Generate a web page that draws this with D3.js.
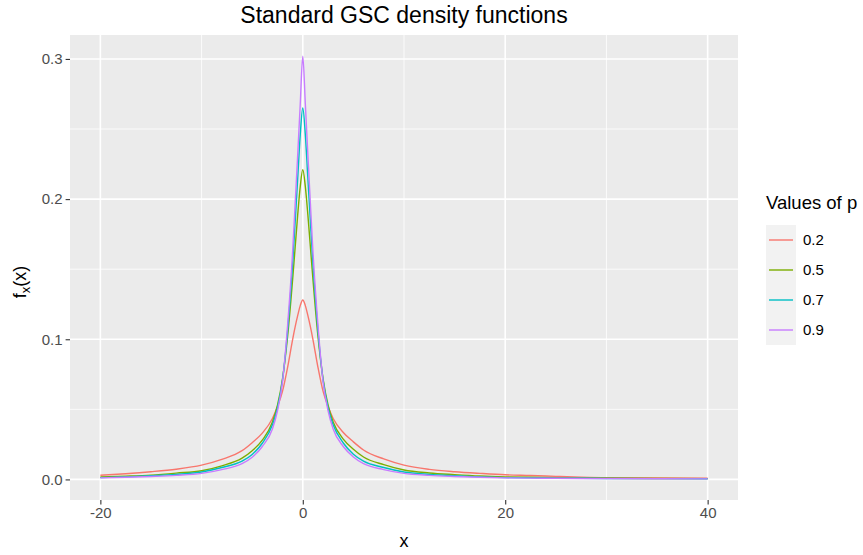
<!DOCTYPE html>
<html>
<head>
<meta charset="utf-8">
<script src="https://cdn.jsdelivr.net/npm/d3@7"></script>
<style>
  body { margin: 0; background: #fff; }
  text { font-family: "Liberation Sans", Arial, sans-serif; }
</style>
</head>
<body>
<script>
// x grid the curves were read at
var xs = [-20, -17.5, -15, -12.5, -10, -8, -6, -5, -4, -3, -2.5, -2, -1.5, -1, -0.75, -0.5, -0.25,
  0, 0.25, 0.5, 0.75, 1, 1.5, 2, 2.5, 3, 4, 5, 6, 8, 10, 12.5, 15, 17.5, 20, 22.5, 25, 27.5, 30, 35, 40];

var p02 = [0.0030, 0.0041, 0.0055, 0.0073, 0.0102, 0.0143, 0.0205, 0.0262, 0.0330, 0.0435, 0.052, 0.063, 0.080, 0.100, 0.109, 0.117, 0.124,
  0.128, 0.124, 0.117, 0.109, 0.100, 0.080, 0.063, 0.052, 0.0435, 0.0335, 0.0268, 0.0210, 0.0146, 0.0102, 0.0072, 0.0055, 0.0043, 0.0033, 0.0028, 0.0022, 0.0016, 0.0012, 0.0010, 0.0009];
var p05 = [0.0017, 0.0023, 0.0031, 0.0045, 0.0062, 0.0097, 0.0152, 0.0205, 0.0280, 0.041, 0.053, 0.072, 0.102, 0.143, 0.166, 0.189, 0.209,
  0.221, 0.209, 0.189, 0.166, 0.143, 0.102, 0.072, 0.053, 0.041, 0.0288, 0.0215, 0.0160, 0.0105, 0.0067, 0.0046, 0.0034, 0.0024, 0.0018, 0.0015, 0.0012, 0.0010, 0.0008, 0.0007, 0.0006];
var p07 = [0.0013, 0.0018, 0.0026, 0.0036, 0.0053, 0.0085, 0.0130, 0.0178, 0.0258, 0.039, 0.051, 0.071, 0.106, 0.154, 0.184, 0.215, 0.246,
  0.265, 0.246, 0.215, 0.184, 0.154, 0.106, 0.071, 0.051, 0.039, 0.0260, 0.0180, 0.0130, 0.0085, 0.0053, 0.0036, 0.0026, 0.0018, 0.0013, 0.0011, 0.0009, 0.0008, 0.0007, 0.0006, 0.0005];
var p09 = [0.0011, 0.0015, 0.0021, 0.0029, 0.0043, 0.0070, 0.0112, 0.0158, 0.0235, 0.036, 0.049, 0.070, 0.110, 0.163, 0.197, 0.232, 0.268,
  0.302, 0.268, 0.232, 0.197, 0.163, 0.110, 0.070, 0.049, 0.036, 0.0235, 0.0160, 0.0112, 0.0070, 0.0043, 0.0029, 0.0021, 0.0015, 0.0011, 0.0009, 0.0008, 0.0007, 0.0006, 0.0005, 0.0004];

var pLabels = ["0.2", "0.5", "0.7", "0.9"];
var colors = ["#F8766D", "#7CAE00", "#00BFC4", "#C77CFF"];
var xTicks = [-20, 0, 20, 40], xMinor = [-10, 10, 30];
var yTicks = [0, 0.1, 0.2, 0.3], yMinor = [0.05, 0.15, 0.25];

var series = [p02, p05, p07, p09].map(function (vals, i) {
  return { p: pLabels[i], color: colors[i], pts: vals.map(function (v, j) { return [xs[j], v]; }) };
});

var W = 863, H = 555;
var pL = 70, pR = 738, pT = 35, pB = 500;

var svg = d3.select("body").append("svg").attr("width", W).attr("height", H);

var xExt = d3.extent(xs), xPad = (xExt[1] - xExt[0]) * 0.05;
var allY = [].concat(p02, p05, p07, p09);
var yExt = d3.extent(allY), yPad = (yExt[1] - yExt[0]) * 0.05;

var x = d3.scaleLinear().domain([xExt[0] - xPad, xExt[1] + xPad]).range([pL, pR]);
var y = d3.scaleLinear().domain([yExt[0] - yPad, yExt[1] + yPad]).range([pB, pT]);

// panel
svg.append("rect").attr("x", pL).attr("y", pT).attr("width", pR - pL).attr("height", pB - pT).attr("fill", "#EBEBEB");

var grid = svg.append("g");
grid.selectAll(".ymin").data(yMinor).enter().append("line")
  .attr("x1", pL).attr("x2", pR).attr("y1", y).attr("y2", y)
  .attr("stroke", "#fff").attr("stroke-width", 0.8);
grid.selectAll(".xmin").data(xMinor).enter().append("line")
  .attr("y1", pT).attr("y2", pB).attr("x1", x).attr("x2", x)
  .attr("stroke", "#fff").attr("stroke-width", 0.8);
grid.selectAll(".ymaj").data(yTicks).enter().append("line")
  .attr("x1", pL).attr("x2", pR).attr("y1", y).attr("y2", y)
  .attr("stroke", "#fff").attr("stroke-width", 1.6);
grid.selectAll(".xmaj").data(xTicks).enter().append("line")
  .attr("y1", pT).attr("y2", pB).attr("x1", x).attr("x2", x)
  .attr("stroke", "#fff").attr("stroke-width", 1.6);

// curves
var line = d3.line().x(function (d) { return x(d[0]); }).y(function (d) { return y(d[1]); }).curve(d3.curveMonotoneX);
svg.append("g").selectAll("path").data(series).enter().append("path")
  .attr("d", function (d) { return line(d.pts); })
  .attr("fill", "none").attr("stroke", function (d) { return d.color; })
  .attr("stroke-width", 1.4);

// axes
var xAxis = d3.axisBottom(x).tickValues(xTicks).tickSize(4.4).tickPadding(3).tickFormat(function (d) { return String(d); });
var yAxis = d3.axisLeft(y).tickValues(yTicks).tickSize(4.4).tickPadding(3).tickFormat(function (d) { return d.toFixed(1); });

var gx = svg.append("g").attr("transform", "translate(0," + pB + ")").call(xAxis);
var gy = svg.append("g").attr("transform", "translate(" + pL + ",0)").call(yAxis);
[gx, gy].forEach(function (g) {
  g.attr("font-family", null);
  g.select(".domain").remove();
  g.selectAll(".tick line").attr("stroke", "#333333").attr("stroke-width", 1.1);
  g.selectAll(".tick text").attr("fill", "#4D4D4D").style("font-size", "15px");
});

// titles
svg.append("text").attr("x", (pL + pR) / 2).attr("y", 23).attr("text-anchor", "middle")
  .style("font-size", "23px").attr("fill", "#000").text("Standard GSC density functions");
svg.append("text").attr("x", (pL + pR) / 2).attr("y", 547).attr("text-anchor", "middle")
  .style("font-size", "18px").attr("fill", "#000").text("x");

var yl = svg.append("text").attr("transform", "translate(26,282) rotate(-90)")
  .attr("text-anchor", "middle").style("font-size", "18px").attr("fill", "#000");
yl.append("tspan").text("f");
yl.append("tspan").attr("dy", 4).style("font-size", "13px").text("x");
yl.append("tspan").attr("dy", -4).text("(x)");

// legend
var lg = svg.append("g");
lg.append("text").attr("x", 766).attr("y", 209).style("font-size", "18.5px").attr("fill", "#000").text("Values of p");
var keyH = 30, keyTop = 225;
var items = lg.selectAll(".item").data(series).enter().append("g")
  .attr("transform", function (d, i) { return "translate(766," + (keyTop + i * keyH) + ")"; });
items.append("rect").attr("width", 30).attr("height", keyH).attr("fill", "#F2F2F2");
items.append("line").attr("x1", 3).attr("x2", 27).attr("y1", keyH / 2).attr("y2", keyH / 2)
  .attr("stroke", function (d) { return d.color; }).attr("stroke-width", 1.4);
items.append("text").attr("x", 37).attr("y", keyH / 2).attr("dy", "0.35em")
  .style("font-size", "15px").attr("fill", "#000").text(function (d) { return d.p; });
</script>
</body>
</html>
